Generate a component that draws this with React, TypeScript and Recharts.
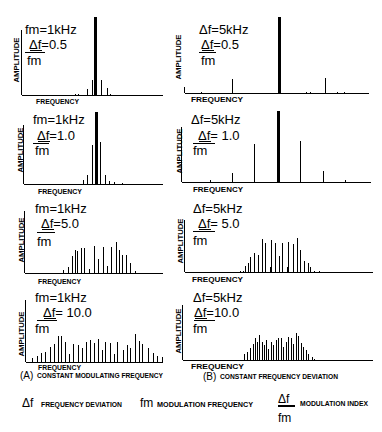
import { Bar, BarChart, ReferenceLine, XAxis, YAxis } from 'recharts'

// sideband positions (offset along the frequency axis) and relative amplitudes
// (A) constant modulating frequency, fm = 1 kHz
const aIdx05Freq = [53, 56, 65, 70, 73.5, 79, 85, 88]
const aIdx05Amp = [1, 1, 6, 15, 78, 15, 7, 1]
const aIdx1Freq = [60, 64, 69, 73, 77, 82, 86, 91, 99]
const aIdx1Amp = [4, 9, 39, 72, 42, 9, 3, 2, 1]
const aIdx5Freq = [38, 43, 47, 50, 52, 56, 59, 64, 69, 73, 78, 82, 86, 91, 94, 97, 101, 105, 110]
const aIdx5Amp = [3, 6, 17, 23, 22, 25, 25, 4, 27, 14, 26, 7, 26, 31, 23, 18, 18, 10, 2]
const aIdx10Freq = [6, 11, 15, 20, 24, 28, 32, 35, 39, 43, 47, 52, 56, 60, 64, 68, 72, 76, 80, 84, 88, 92, 97, 101, 105, 109, 113, 117, 122, 127, 131, 136]
const aIdx10Amp = [4, 6, 9, 10, 15, 18, 26, 26, 20, 8, 18, 17, 14, 20, 22, 19, 23, 12, 20, 19, 8, 20, 12, 17, 14, 28, 21, 18, 14, 9, 6, 5]

// (B) constant frequency deviation, delta f = 5 kHz
const bIdx05Freq = [17, 48, 94, 122, 125, 140, 152, 159]
const bIdx05Amp = [1, 14, 76, 1, 1, 15, 1, 1]
const bIdx1Freq = [28, 50, 72, 95.5, 118, 141, 163]
const bIdx1Amp = [2, 9, 38, 71, 41, 11, 2]
const bIdx5Freq = [56, 59, 61, 64, 66, 70, 74, 78, 81, 86, 87, 91, 95, 98, 103, 104, 109, 113, 116, 120, 124, 126, 130, 135]
const bIdx5Amp = [1, 1, 6, 9, 15, 19, 17, 33, 29, 5, 32, 29, 16, 29, 5, 30, 28, 34, 22, 11, 9, 5, 1, 1]
const bIdx10Freq = [62, 65, 68, 71, 73, 75, 77, 80, 82, 84, 86, 89, 91, 94, 96, 99, 101, 104, 106, 109, 111, 114, 116, 119, 121, 124, 126, 130, 132]
const bIdx10Amp = [6, 8, 12, 16, 22, 18, 25, 18, 15, 20, 11, 18, 15, 20, 22, 22, 13, 18, 23, 22, 16, 27, 24, 17, 13, 10, 6, 3, 1]

const leftTitles = ['fm=1kHz', 'fm=1kHz', 'fm=1kHz', 'fm=1kHz']
const leftRatios = ['Δf=0.5', 'Δf=1.0', 'Δf=5.0', 'Δf= 10.0']
const rightTitles = ['Δf=5kHz', 'Δf=5kHz', 'Δf=5kHz', 'Δf=5kHz']
const rightRatios = ['Δf=0.5', 'Δf= 1.0', 'Δf= 5.0', 'Δf=10.0']

const PANEL_H = 82
const PAD = 4
const FONT = '"Liberation Sans", Arial, sans-serif'

function SpectrumLine(props: any) {
  const { x, y, width, height } = props
  if (!height || height <= 0) return null
  const cx = x + width / 2
  const w = height > 60 ? 3 : 1
  return <rect x={Math.round(cx - w / 2)} y={y} width={w} height={height} fill="#000" />
}

type SpectrumProps = {
  freq: number[]
  amp: number[]
  left: number
  right: number
  base: number
  axisTop: number
}

function Spectrum({ freq, amp, left, right, base, axisTop }: SpectrumProps) {
  const data = freq.map((f, i) => ({ f, a: amp[i] }))
  const span = right - left
  return (
    <div style={{ position: 'absolute', left: left - PAD, top: base - PANEL_H }}>
      <BarChart
        width={span + PAD * 2}
        height={PANEL_H + PAD}
        data={data}
        margin={{ top: 0, right: PAD, bottom: PAD, left: PAD }}
        barSize={1}
      >
        <XAxis type="number" dataKey="f" domain={[0, span]} hide />
        <YAxis type="number" domain={[0, PANEL_H]} hide />
        <ReferenceLine y={-0.5} stroke="#000" strokeWidth={1} ifOverflow="visible" />
        <ReferenceLine
          segment={[{ x: -0.5, y: 0 }, { x: -0.5, y: base - axisTop }]}
          stroke="#000"
          strokeWidth={1}
          ifOverflow="visible"
        />
        <Bar dataKey="a" fill="#000" isAnimationActive={false} shape={<SpectrumLine />} />
      </BarChart>
    </div>
  )
}

const panels = [
  { freq: aIdx05Freq, amp: aIdx05Amp, left: 22, right: 163, base: 95, axisTop: 30 },
  { freq: aIdx1Freq, amp: aIdx1Amp, left: 24, right: 163, base: 184, axisTop: 125 },
  { freq: aIdx5Freq, amp: aIdx5Amp, left: 25, right: 163, base: 273, axisTop: 211 },
  { freq: aIdx10Freq, amp: aIdx10Amp, left: 26, right: 163, base: 362, axisTop: 300 },
  { freq: bIdx05Freq, amp: bIdx05Amp, left: 185, right: 369, base: 93, axisTop: 87 },
  { freq: bIdx1Freq, amp: bIdx1Amp, left: 182, right: 371, base: 182, axisTop: 127 },
  { freq: bIdx5Freq, amp: bIdx5Amp, left: 185, right: 373, base: 272, axisTop: 220 },
  { freq: bIdx10Freq, amp: bIdx10Amp, left: 183, right: 373, base: 360, axisTop: 305 },
]

// text placement per panel: title line, ratio line, fraction bar, "fm" line
const leftText = [
  { x1: 25, y1: 34, x2: 29, y2: 49, bx: 25, bw: 20, by: 52.5, x3: 27, y3: 65 },
  { x1: 33, y1: 124, x2: 37, y2: 140, bx: 33, bw: 16, by: 143.5, x3: 35, y3: 155 },
  { x1: 35, y1: 213, x2: 41, y2: 228, bx: 37, bw: 18, by: 232.5, x3: 37, y3: 246 },
  { x1: 35, y1: 302, x2: 43, y2: 317, bx: 37, bw: 20, by: 320.5, x3: 35, y3: 333 },
]
const rightText = [
  { x1: 199, y1: 34, x2: 201, y2: 49, bx: 199, bw: 17, by: 52.5, x3: 201, y3: 65 },
  { x1: 191, y1: 124, x2: 198, y2: 140, bx: 193, bw: 22, by: 143.5, x3: 193, y3: 155 },
  { x1: 193, y1: 213, x2: 198, y2: 228, bx: 193, bw: 22, by: 231.5, x3: 193, y3: 245 },
  { x1: 193, y1: 302, x2: 194, y2: 317, bx: 194, bw: 21, by: 320.5, x3: 193, y3: 333 },
]
const ampLabels = [
  [16.5, 60], [20, 150], [21, 240], [21, 334],
  [178, 57], [179, 151], [180, 241], [178.5, 331],
]
const freqLabels = [
  [36, 103.5, 43], [38, 193.5, 44], [38, 283.5, 43], [38, 369.5, 43],
  [191, 102, 52], [193, 191.5, 50], [192, 281.5, 51], [191, 368.5, 53],
]

function Formula({ t, title, ratio }: { t: typeof leftText[number]; title: string; ratio: string }) {
  return (
    <g fontFamily={FONT} fontSize={13} fill="#000">
      <text x={t.x1} y={t.y1}>{title}</text>
      <text x={t.x2} y={t.y2}>{ratio}</text>
      <line x1={t.x2 + 1} x2={t.x2 + 13} y1={t.y2 + 1.5} y2={t.y2 + 1.5} stroke="#000" strokeWidth={1} />
      <line x1={t.bx} x2={t.bx + t.bw} y1={t.by} y2={t.by} stroke="#000" strokeWidth={1} />
      <text x={t.x3} y={t.y3}>fm</text>
    </g>
  )
}

function Labels() {
  const small = { fontFamily: FONT, fontWeight: 700, fontSize: 7.5, fill: '#000' }
  return (
    <svg width={382} height={432} style={{ position: 'absolute', left: 0, top: 0, pointerEvents: 'none' }}>
      {leftText.map((t, i) => (
        <Formula key={`l${i}`} t={t} title={leftTitles[i]} ratio={leftRatios[i]} />
      ))}
      {rightText.map((t, i) => (
        <Formula key={`r${i}`} t={t} title={rightTitles[i]} ratio={rightRatios[i]} />
      ))}
      {ampLabels.map(([x, y], i) => (
        <text
          key={`a${i}`}
          {...small}
          x={x}
          y={y + 2.7}
          textAnchor="middle"
          textLength={45}
          lengthAdjust="spacingAndGlyphs"
          transform={`rotate(-90 ${x} ${y})`}
        >
          AMPLITUDE
        </text>
      ))}
      {freqLabels.map(([x, y, w], i) => (
        <text key={`f${i}`} {...small} x={x} y={y} textLength={w} lengthAdjust="spacingAndGlyphs">
          FREQUENCY
        </text>
      ))}

      <text x={20} y={378.5} fontFamily={FONT} fontSize={10}>(A)</text>
      <text x={37} y={378} {...small} fontSize={6.5} textLength={126} lengthAdjust="spacingAndGlyphs">
        CONSTANT MODULATING FREQUENCY
      </text>
      <text x={203} y={379.5} fontFamily={FONT} fontSize={10}>(B)</text>
      <text x={220} y={379} {...small} fontSize={6.5} textLength={118} lengthAdjust="spacingAndGlyphs">
        CONSTANT FREQUENCY DEVIATION
      </text>

      <text x={22} y={407} fontFamily={FONT} fontSize={12}>Δf</text>
      <text x={41} y={407} {...small} fontSize={6.5} textLength={81} lengthAdjust="spacingAndGlyphs">
        FREQUENCY DEVIATION
      </text>
      <text x={140} y={407} fontFamily={FONT} fontSize={12}>fm</text>
      <text x={157} y={407} {...small} fontSize={6.5} textLength={96} lengthAdjust="spacingAndGlyphs">
        MODULATION FREQUENCY
      </text>
      <text x={278} y={403} fontFamily={FONT} fontSize={12}>Δf</text>
      <line x1={278} x2={295} y1={406} y2={406} stroke="#000" strokeWidth={2} />
      <text x={278} y={422} fontFamily={FONT} fontSize={12}>fm</text>
      <text x={300} y={406} {...small} fontSize={6.5} textLength={68} lengthAdjust="spacingAndGlyphs">
        MODULATION INDEX
      </text>
    </svg>
  )
}

export default function App() {
  return (
    <div style={{ position: 'absolute', left: 0, top: 0, width: 382, height: 432, background: '#fff', overflow: 'hidden' }}>
      {panels.map((p, i) => (
        <Spectrum key={i} {...p} />
      ))}
      <Labels />
    </div>
  )
}
